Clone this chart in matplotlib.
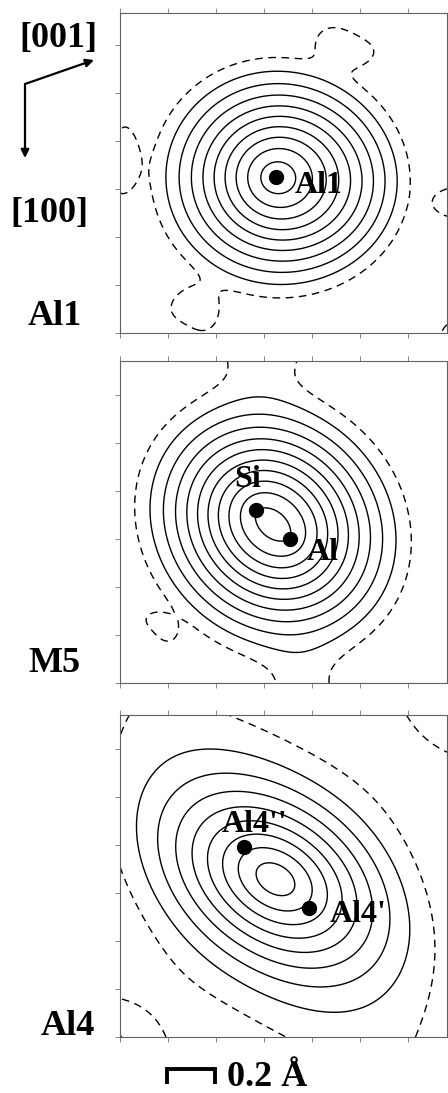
import numpy as np
import matplotlib.pyplot as plt

plt.rcParams['font.family'] = ['Liberation Serif', 'DejaVu Serif']
plt.rcParams['font.weight'] = 'bold'
plt.rcParams['lines.dashed_pattern'] = [5.5, 4.0]

# ---- data (Angstrom units, 0.2 A between ticks) ----
# density terms: x, y, signed height, width along axis, width across,
# axis angle (deg), shape power p in exp(-q**p)
al1_terms = [
    (0.64, 0.65, 0.93, 0.547, 0.53, 0, 0.75),     # Al1 atom
    (0.64, 0.65, -0.40, 2.19, 2.12, 0, 1),        # negative surroundings
    (0.93, 0.60, 0.10, 0.35, 0.35, 0, 1),
    (1.00, 1.26, 0.14, 0.24, 0.156, -10, 2),
    (-0.06, 0.78, 0.13, 0.146, 0.38, 0, 2),
    (0.26, 0.01, 0.16, 0.20, 0.19, 0, 2),
    (1.46, 0.54, 0.20, 0.17, 0.11, 0, 2),
    (1.44, -0.05, 0.26, 0.21, 0.21, 0, 2),
]

m5_terms = [
    (0.567, 0.721, 0.547, 0.55, 0.50, -45, 0.75),  # Si
    (0.708, 0.600, 0.547, 0.55, 0.50, -45, 0.75),  # Al
    (0.6375, 0.66, -0.40, 1.65, 1.50, -45, 1),
    (0.604, 1.50, 0.236, 0.25, 0.20, 0, 1),
    (0.77, -0.16, 0.197, 0.19, 0.20, 0, 1),
    (0.12, 0.20, 0.10, 0.15, 0.115, -30, 2),
]

al4_terms = [
    (0.65, 0.658, 0.75, 0.60, 0.41, -30, 0.75),   # Al4 split site
    (0.65, 0.658, -0.40, 1.39, 0.90, -30, 1),
    (0.62, 0.63, 0.17, 2.50, 0.65, -55, 1),
    (1.50, 1.446, 0.158, 0.46, 0.46, 0, 1),
    (-0.104, -0.104, 0.179, 0.354, 0.354, 0, 1),
]

level_step = 0.06

al1_dots_x = [0.65]
al1_dots_y = [0.65]
m5_dots_x = [0.567, 0.708]
m5_dots_y = [0.721, 0.600]
al4_dots_x = [0.517, 0.7875]
al4_dots_y = [0.792, 0.5375]

al1_labels = [("Al1", 0.729, 0.583, 'left')]
m5_labels = [("Si", 0.532, 0.817, 'center'), ("Al", 0.846, 0.5125, 'center')]
al4_labels = [("Al4''", 0.425, 0.854, 'left'), ("Al4'", 0.875, 0.479, 'left')]

panel_names = ["Al1", "M5", "Al4"]

# ---- layout in pixels ----
W, H = 448, 1093
px_per_A = 240.0
boxes = [(120, 13, 447, 333), (120, 361, 447, 683), (120, 715, 447, 1037)]


def density(terms, X, Y):
    Z = np.zeros_like(X)
    for x0, y0, h, a, b, ang, p in terms:
        t = np.radians(ang)
        u = (X - x0) * np.cos(t) + (Y - y0) * np.sin(t)
        v = -(X - x0) * np.sin(t) + (Y - y0) * np.cos(t)
        q = (u / a) ** 2 + (v / b) ** 2
        Z += h * np.exp(-q ** p)
    return Z


fig = plt.figure(figsize=(W / 100, H / 100), dpi=100)

panels = [
    (al1_terms, al1_dots_x, al1_dots_y, al1_labels),
    (m5_terms, m5_dots_x, m5_dots_y, m5_labels),
    (al4_terms, al4_dots_x, al4_dots_y, al4_labels),
]

for (l, t, r, b), (terms, dx, dy, labels) in zip(boxes, panels):
    ax = fig.add_axes([l / W, 1 - b / H, (r - l) / W, (b - t) / H])
    xmax = (r - l) / px_per_A
    ymax = (b - t) / px_per_A
    x = np.linspace(0, xmax, 400)
    y = np.linspace(0, ymax, 400)
    X, Y = np.meshgrid(x, y)
    Z = density(terms, X, Y)
    pos = level_step * np.arange(1, 20)
    pos = pos[pos < Z.max()]
    ax.contour(X, Y, Z, levels=pos, colors='black', linewidths=1.0,
               linestyles='solid')
    ax.contour(X, Y, Z, levels=[0], colors='black', linewidths=1.0,
               linestyles='dashed')
    ax.plot(dx, dy, 'o', color='black', markersize=10)
    for txt, tx, ty, ha in labels:
        ax.text(tx, ty, txt, fontsize=23, fontweight='bold', ha=ha,
                va='baseline')
    ax.set_xlim(0, xmax)
    ax.set_ylim(0, ymax)
    ax.set_xticks(np.arange(0, xmax, 0.2))
    ax.set_yticks(np.arange(0, ymax, 0.2))
    ax.tick_params(direction='out', length=3.5, width=0.7, color='#888888',
                   top=True, bottom=True, left=True, right=False,
                   labelbottom=False, labelleft=False)
    for s in ax.spines.values():
        s.set_color('#606060')
        s.set_linewidth(0.8)

# overlay for orientation arrows, side labels and scale bar
ov = fig.add_axes([0, 0, 1, 1])
ov.set_xlim(0, W)
ov.set_ylim(H, 0)
ov.axis('off')
ov.patch.set_alpha(0)

arrow = dict(arrowstyle='-|>', lw=1.6, color='black', mutation_scale=12,
             shrinkA=0, shrinkB=0)
ov.annotate('', xy=(25, 158), xytext=(25, 84), arrowprops=arrow)
ov.annotate('', xy=(94, 60), xytext=(25, 84), arrowprops=arrow)
ov.text(58, 47, '[001]', fontsize=26, fontweight='bold', ha='center',
        va='baseline')
ov.text(49, 222, '[100]', fontsize=26, fontweight='bold', ha='center',
        va='baseline')

name_pos = [(55, 325), (54, 672), (68, 1035)]
for name, (nx, ny) in zip(panel_names, name_pos):
    ov.text(nx, ny, name, fontsize=26, fontweight='bold', ha='center',
            va='baseline')

bar = 0.2 * px_per_A
ov.plot([167, 167, 167 + bar, 167 + bar], [1082, 1069, 1069, 1082],
        color='black', lw=2.8, solid_joinstyle='miter')
ov.text(227, 1086, '0.2 Å', fontsize=26, fontweight='bold', ha='left',
        va='baseline')

fig.savefig('out.png', dpi=100)
